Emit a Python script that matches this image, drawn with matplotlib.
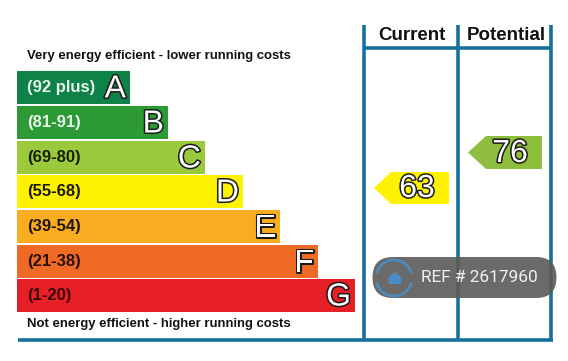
import matplotlib.pyplot as plt
import matplotlib.patheffects as pe
from matplotlib.patches import FancyBboxPatch, Polygon, Arc

plt.rcParams['font.family'] = ['Liberation Sans', 'DejaVu Sans']

# bands (right edge of each bar in px)
ranges = ['(92 plus)', '(81-91)', '(69-80)', '(55-68)', '(39-54)', '(21-38)', '(1-20)']
letters = ['A', 'B', 'C', 'D', 'E', 'F', 'G']
bar_ends = [130, 168, 205, 243, 280, 318, 355]
bar_tops = [71, 106, 141, 175, 210, 245, 279]
colors = ['#0e8247', '#2c9b35', '#9aca3c', '#fff200', '#f9ac1f', '#ee6a25', '#e71f27']
label_colors = ['#e8f5ea', '#e8f5ea', '#15200a', '#1a1a00', '#201505', '#2a0f05', '#3a0508']

current = 63
potential = 76
current_color = '#fff200'
potential_color = '#8fbe3f'
line_color = '#17709b'

outline = [pe.withStroke(linewidth=2.2, foreground='#1c1c1c')]

fig = plt.figure(figsize=(5.68, 3.61), dpi=100)
ax = fig.add_axes([0, 0, 1, 1])
ax.set_xlim(0, 568)
ax.set_ylim(361, 0)
ax.axis('off')

# bars
for i in range(len(ranges)):
    ax.barh(bar_tops[i] + 16.5, bar_ends[i] - 17, left=17, height=33, color=colors[i], linewidth=0)
    ax.text(27, bar_tops[i] + 16.5, ranges[i], fontsize=12, fontweight='bold',
            color=label_colors[i], va='center', ha='left')
    ax.text(bar_ends[i] - 4, bar_tops[i] + 18.5, letters[i], fontsize=23, color='white',
            va='center', ha='right', path_effects=outline)

ax.text(27, 56.5, 'Very energy efficient - lower running costs', fontsize=9.45, fontweight='bold',
        color='#111111', va='center')
ax.text(27, 324.5, 'Not energy efficient - higher running costs', fontsize=9.45, fontweight='bold',
        color='#111111', va='center')

# table lines
for x in [364, 458, 551]:
    ax.plot([x, x], [25, 341], color=line_color, lw=2.6, solid_capstyle='butt')
ax.plot([364, 551], [48, 48], color=line_color, lw=2.6, solid_capstyle='butt')
ax.plot([18, 553], [339.5, 339.5], color=line_color, lw=2.6, solid_capstyle='butt')

ax.text(411.5, 35, 'Current', fontsize=13.5, fontweight='bold', color='#111111', ha='center', va='center')
ax.text(506, 35, 'Potential', fontsize=13.5, fontweight='bold', color='#111111', ha='center', va='center')

# rating arrows
ax.add_patch(Polygon([(449, 172), (391, 172), (374, 188), (391, 204), (449, 204)],
                     closed=True, facecolor=current_color, edgecolor='none'))
ax.text(417, 189, str(current), fontsize=23, color='white', ha='center', va='center', path_effects=outline)
ax.add_patch(Polygon([(542, 136), (486, 136), (468, 152.5), (486, 169), (542, 169)],
                     closed=True, facecolor=potential_color, edgecolor='none'))
ax.text(510, 154, str(potential), fontsize=23, color='white', ha='center', va='center', path_effects=outline)

# watermark
ax.add_patch(FancyBboxPatch((393, 277.5), 143, 0, boxstyle='round,pad=20.5,rounding_size=20.5',
                            facecolor='#5c5a59', edgecolor='none', alpha=0.9, zorder=5))
ax.add_patch(Arc((394, 278), 36, 36, theta1=195, theta2=345, color='#4a8cc4', lw=1.8, zorder=6))
ax.add_patch(Arc((394, 278), 36, 36, theta1=15, theta2=165, color='#4a8cc4', lw=1.8, zorder=6))
ax.add_patch(Polygon([(388, 278), (395, 272), (402, 278), (401, 284), (389, 284)],
                     closed=True, facecolor='#4a8cc4', edgecolor='none', zorder=6))
ax.text(479.5, 277.5, 'REF # 2617960', fontsize=12.4, family=['Roboto', 'DejaVu Sans'],
        color='#f0f0f0', ha='center', va='center', zorder=6)

fig.savefig('out.png', dpi=100)
